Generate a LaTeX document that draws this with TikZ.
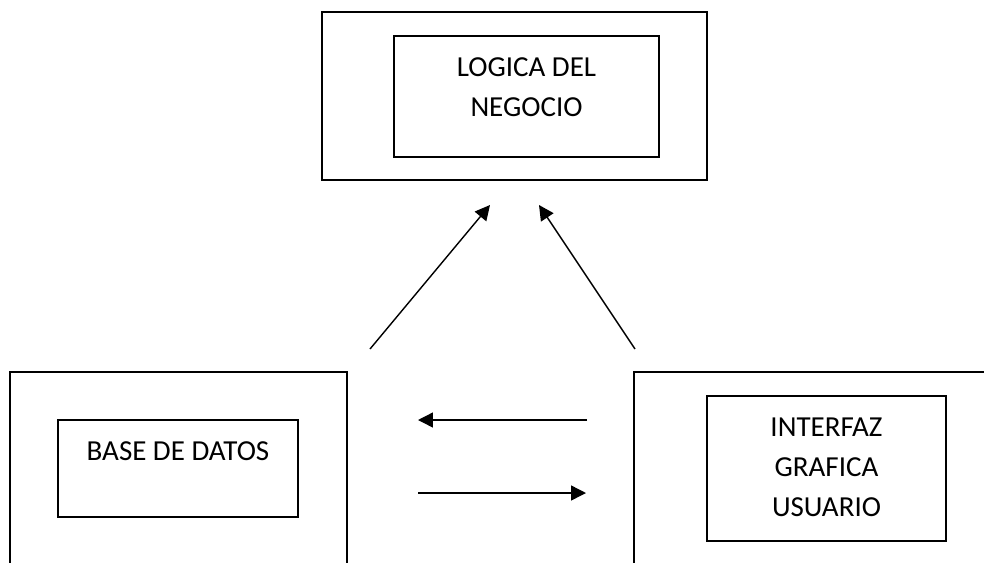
\documentclass[tikz,border=0pt]{standalone}
\usepackage{fontspec}
\setmainfont{Carlito}
\usetikzlibrary{arrows.meta,positioning}

\tikzset{
    capa/.style={draw, line width=0.9pt, inner sep=0pt},
    modulo/.style={draw, line width=0.9pt, inner sep=0pt},
    etiqueta/.style={align=center, inner sep=0pt, font=\fontsize{16.5pt}{22.7pt}\selectfont},
    flecha/.style={line width=0.8pt, -{Triangle[length=8.5pt, width=8.5pt]}},
}

\begin{document}
\begin{tikzpicture}[x=0.02cm, y=-0.02cm]
    \useasboundingbox (0, 0) rectangle (984, 562);
    \clip (0, 0) rectangle (984, 562);
    % capas exteriores
    \node[capa, minimum width=7.7cm, minimum height=3.36cm] (logica) at (514.5, 96) {};
    \node[capa, minimum width=6.74cm, minimum height=4.56cm] (datos) at (178.5, 486) {};
    \node[capa, minimum width=7.72cm, minimum height=4.56cm] (interfaz) at (827, 486) {};
    % modulos interiores
    \node[modulo, minimum width=5.3cm, minimum height=2.42cm] (logicaIn) at (526.5, 96.5) {};
    \node[modulo, minimum width=4.8cm, minimum height=1.94cm] (datosIn) at (178, 468.5) {};
    \node[modulo, minimum width=4.78cm, minimum height=2.9cm] (interfazIn) at (826.5, 468.5) {};
    \node[etiqueta] (logicaTxt) at (526.5, 87) {LOGICA DEL\\NEGOCIO};
    \node[etiqueta] (datosTxt) at (178, 451) {BASE DE DATOS};
    \node[etiqueta] (interfazTxt) at (826.5, 467) {INTERFAZ\\GRAFICA\\USUARIO};
    % flechas
    \coordinate (d1) at (370, 349);
    \coordinate (l1) at (490, 205);
    \coordinate (i1) at (635, 349);
    \coordinate (l2) at (539, 205);
    \coordinate (i2) at (587, 420);
    \coordinate (d2) at (418, 420);
    \coordinate (d3) at (418, 493);
    \coordinate (i3) at (586, 493);
    \draw[flecha] (d1) -- (l1);
    \draw[flecha] (i1) -- (l2);
    \draw[flecha] (i2) -- (d2);
    \draw[flecha] (d3) -- (i3);
\end{tikzpicture}
\end{document}
